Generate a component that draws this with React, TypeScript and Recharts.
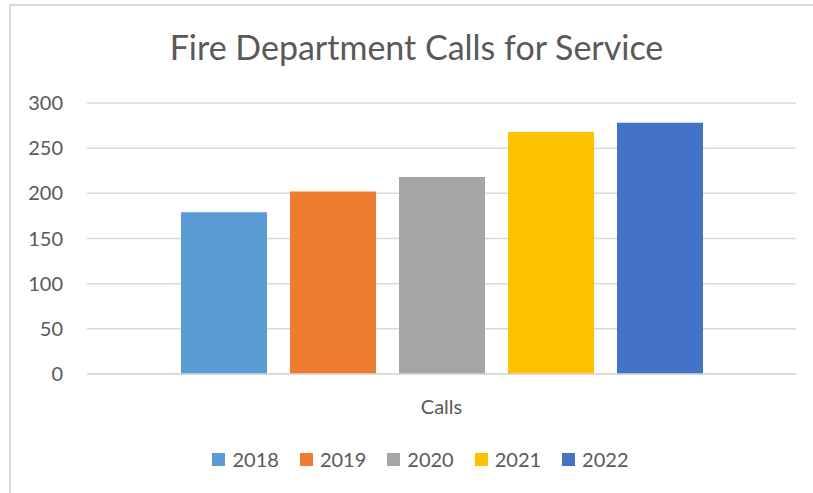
import React from 'react';
import { BarChart, Bar, XAxis, YAxis, CartesianGrid } from 'recharts';

const title = 'Fire Department Calls for Service';
const categories = ['Calls'];
const seriesNames = ['2018', '2019', '2020', '2021', '2022'];
const seriesValues = [179, 202, 218, 268, 278];
const seriesColors = ['#5b9bd5', '#ed7d31', '#a5a5a5', '#ffc000', '#4472c4'];
const yTicks = [0, 50, 100, 150, 200, 250, 300];

const data = categories.map((c) => {
  const row: Record<string, string | number> = { name: c };
  seriesNames.forEach((s, i) => {
    row[s] = seriesValues[i];
  });
  return row;
});

const FONT = 'Lato, "Liberation Sans", sans-serif';
const TEXT = '#595959';

function ChartLegend() {
  return (
    <div
      style={{
        position: 'absolute',
        left: 13,
        top: 448,
        width: 815,
        height: 22,
        display: 'flex',
        justifyContent: 'center',
        alignItems: 'center',
        fontFamily: FONT,
        fontSize: 20,
        color: TEXT,
      }}
    >
      {seriesNames.map((s, i) => (
        <div
          key={s}
          style={{
            display: 'flex',
            alignItems: 'center',
            marginLeft: i === 0 ? 0 : 21,
          }}
        >
          <span
            style={{
              display: 'inline-block',
              width: 13,
              height: 13,
              background: seriesColors[i],
              marginRight: 7,
            }}
          />
          <span style={{ lineHeight: '20px' }}>{s}</span>
        </div>
      ))}
    </div>
  );
}

export default function App() {
  return (
    <div style={{ position: 'absolute', left: 0, top: 0, width: 813, height: 493, background: '#fff', overflow: 'hidden' }}>
      <div
        style={{
          position: 'absolute',
          left: 9,
          top: 4,
          width: 804,
          height: 489,
          borderTop: '2px solid #d9d9d9',
          borderLeft: '2px solid #d9d9d9',
          boxSizing: 'border-box',
        }}
      />
      <div
        style={{
          position: 'absolute',
          left: 9,
          top: 30,
          width: 815,
          textAlign: 'center',
          fontFamily: FONT,
          fontSize: 34,
          lineHeight: '34px',
          color: TEXT,
          whiteSpace: 'nowrap',
        }}
      >
        {title}
      </div>
      <div style={{ position: 'absolute', left: 0, top: 0 }}>
        <BarChart
          width={813}
          height={493}
          data={data}
          margin={{ top: 103, right: 17, bottom: 89, left: 0 }}
          barSize={86}
          barGap={23}
        >
          <CartesianGrid vertical={false} stroke="#d9d9d9" strokeWidth={1.5} />
          <XAxis
            dataKey="name"
            height={30}
            axisLine={{ stroke: '#d9d9d9', strokeWidth: 1.5 }}
            tickLine={false}
            tickMargin={20}
            tick={{ fill: TEXT, fontSize: 20, fontFamily: FONT }}
          />
          <YAxis
            width={87}
            domain={[0, 300]}
            ticks={yTicks}
            interval={0}
            axisLine={false}
            tickLine={false}
            tickMargin={18}
            tick={{ fill: TEXT, fontSize: 20, fontFamily: FONT }}
          />
          {seriesNames.map((s, i) => (
            <Bar key={s} dataKey={s} fill={seriesColors[i]} isAnimationActive={false} />
          ))}
        </BarChart>
      </div>
      <ChartLegend />
    </div>
  );
}
